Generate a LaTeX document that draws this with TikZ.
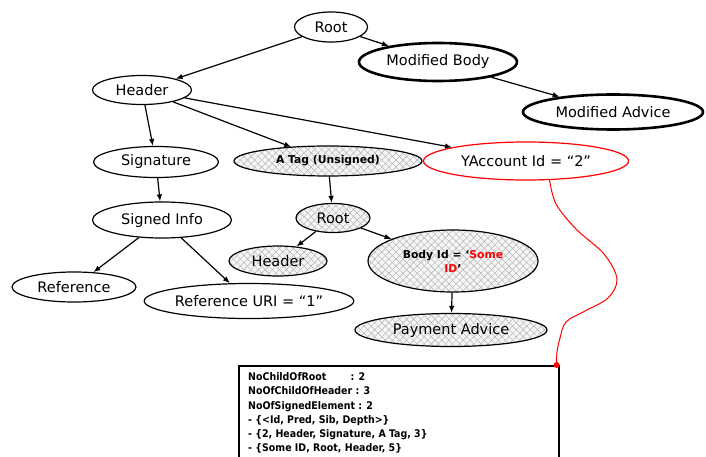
\documentclass[tikz,border=0pt]{standalone}
\usepackage{fontspec}
\setmainfont{DejaVu Sans}
\newfontfamily\boxfont{DejaVu Sans Condensed}
\usetikzlibrary{arrows.meta,shapes.geometric,patterns.meta}
\tikzset{
  el/.style={ellipse,draw=black,line width=1.2pt,inner sep=0pt,font=\fontsize{14.5}{16}\selectfont,fill=white},
  elthick/.style={el,line width=2.6pt},
  elred/.style={el,draw=red},
  hatched/.style={el,
    preaction={fill=gray!8},
    preaction={pattern={Lines[angle=45,distance=5pt,line width=0.45pt]},pattern color=gray!60},
    pattern={Lines[angle=-45,distance=5pt,line width=0.45pt]},pattern color=gray!60},
  smallbold/.style={font=\bfseries\fontsize{10.8}{14}\selectfont},
  link/.style={line width=1.2pt,-{Latex[length=7pt,width=5.5pt]}},
}
\begin{document}
\begin{tikzpicture}[x=1pt,y=-1pt]
\useasboundingbox (0,0) rectangle (706,457);
\clip (0,0) rectangle (706,457);

% upper tree
\node[el,minimum width=73pt,minimum height=30pt] (root) at (331,27) {Root};
\node[elthick,minimum width=158pt,minimum height=38pt] (mbody) at (438,62) {Modified Body};
\node[elthick,minimum width=180pt,minimum height=35pt] (madv) at (613,112) {Modified Advice};
\node[el,minimum width=99pt,minimum height=29pt] (hdr) at (142,90) {Header};

% header children
\node[el,minimum width=125pt,minimum height=31pt] (sig) at (156,162) {Signature};
\node[hatched,smallbold,minimum width=188pt,minimum height=30pt] (atag) at (328,161) {A Tag (Unsigned)};
\node[elred,minimum width=205pt,minimum height=38pt] (ya) at (526,161) {YAccount Id = “2”};

% signed branch
\node[el,minimum width=139pt,minimum height=36pt] (sinfo) at (162,220) {Signed Info};
\node[el,minimum width=124pt,minimum height=30pt] (ref) at (74,287) {Reference};
\node[el,minimum width=204pt,minimum height=35pt] (refuri) at (249,301) {Reference URI = “1”};

% unsigned branch
\node[hatched,minimum width=74pt,minimum height=29pt] (root2) at (333,218) {Root};
\node[hatched,minimum width=98pt,minimum height=30pt] (hdr2) at (278,261) {Header};
\node[hatched,smallbold,minimum width=170pt,minimum height=62pt,align=center] (body) at (453,261)
  {Body Id = ‘\textcolor{red}{Some}\\\textcolor{red}{ID}’};
\node[hatched,minimum width=192pt,minimum height=33pt] (pay) at (451,330) {Payment Advice};

% connectors
\draw[link] (root) -- (hdr);
\draw[link] (root) -- (mbody);
\draw[link] (mbody) -- (madv);
\draw[link] (hdr) -- (sig);
\draw[link] (hdr) -- (atag);
\draw[link] (hdr) -- (ya);
\draw[link] (sig) -- (sinfo);
\draw[link] (sinfo) -- (ref);
\draw[link] (sinfo) -- (refuri);
\draw[link] (atag) -- (root2);
\draw[link] (root2) -- (hdr2);
\draw[link] (root2) -- (body);
\draw[link] (body) -- (pay);

% statistics box
\node[draw=black,line width=1.6pt,anchor=north west,minimum width=320pt,minimum height=110pt,
      inner sep=0pt,fill=white] (stats) at (238,365) {};
\node[anchor=north west,inner sep=0pt,align=left,font=\boxfont\bfseries\fontsize{10.5}{14.2}\selectfont] (statstext) at (248,372.5)
  {NoChildOfRoot\hspace{2.3em}: 2\\
   NoOfChildOfHeader : 3\\
   NoOfSignedElement : 2\\
   - \{<Id, Pred, Sib, Depth>\}\\
   - \{2, Header, Signature, A Tag, 3\}\\
   - \{Some ID, Root, Header, 5\}};
\coordinate (tap) at ([xshift=-3pt]stats.north east);

% red callout line
\draw[red,line width=1pt] plot[smooth,tension=0.55] coordinates
  {(ya.-39) (556,204) (576,229) (604,254) (617,279) (608,298) (585,311) (566,322) (560,338) (557,352) (tap)};
\fill[red] (tap) circle (3pt);
\end{tikzpicture}
\end{document}
